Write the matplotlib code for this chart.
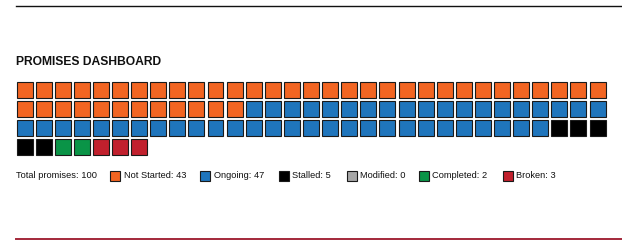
import matplotlib.pyplot as plt
from matplotlib.patches import Rectangle

# promise status counts
statuses = ["Not Started", "Ongoing", "Stalled", "Modified", "Completed", "Broken"]
counts = [43, 47, 5, 0, 2, 3]
colors = ["#f26522", "#1f75bc", "#000000", "#a7a7a7", "#0a9447", "#c1202d"]
per_row = 31

W, H = 622, 252
plt.rcParams['font.family'] = ['Liberation Sans', 'DejaVu Sans']
fig = plt.figure(figsize=(W / 100, H / 100), dpi=100)

# page frame (pixel coords)
bg = fig.add_axes([0, 0, 1, 1])
bg.set_xlim(0, W)
bg.set_ylim(H, 0)
bg.axis("off")
bg.plot([16, W], [5.5, 5.5], color="#111111", lw=1.0)
bg.plot([16, W], [238.5, 238.5], color="#a3283a", lw=1.4)
bg.text(16, 62, "PROMISES DASHBOARD", fontsize=8.7, fontweight="bold",
        va="center", ha="left", color="#111111")

# waffle
pitch_x, pitch_y, sq = 19.1, 19.0, 16.0
n_rows = (sum(counts) + per_row - 1) // per_row
left, top = 16.5, 81.5
wpx = (per_row - 1) * pitch_x + sq
hpx = (n_rows - 1) * pitch_y + sq
ax = fig.add_axes([left / W, 1 - (top + hpx) / H, wpx / W, hpx / H])
sx, sy = sq / pitch_x, sq / pitch_y
ax.set_xlim(0, per_row - 1 + sx)
ax.set_ylim(n_rows - 1 + sy, 0)
ax.axis("off")
i = 0
for c, col in zip(counts, colors):
    for _ in range(c):
        r, k = divmod(i, per_row)
        ax.add_patch(Rectangle((k, r), sx, sy, facecolor=col,
                               edgecolor="#1a1a1a", lw=0.8, clip_on=False))
        i += 1

# legend row
ly = 175.7
bg.text(16, ly, "Total promises: %d" % sum(counts), fontsize=6.7,
        va="center", ha="left", color="#111111")
lx = [109, 199, 278, 346, 418, 502]
for x, name, c, col in zip(lx, statuses, counts, colors):
    bg.add_patch(Rectangle((x + 0.5, ly - 5), 10.5, 10.5, facecolor=col,
                           edgecolor="#1a1a1a", lw=0.8))
    bg.text(x + 14.5, ly, "%s: %d" % (name, c), fontsize=6.7,
            va="center", ha="left", color="#111111")

fig.savefig("out.png", dpi=100)
